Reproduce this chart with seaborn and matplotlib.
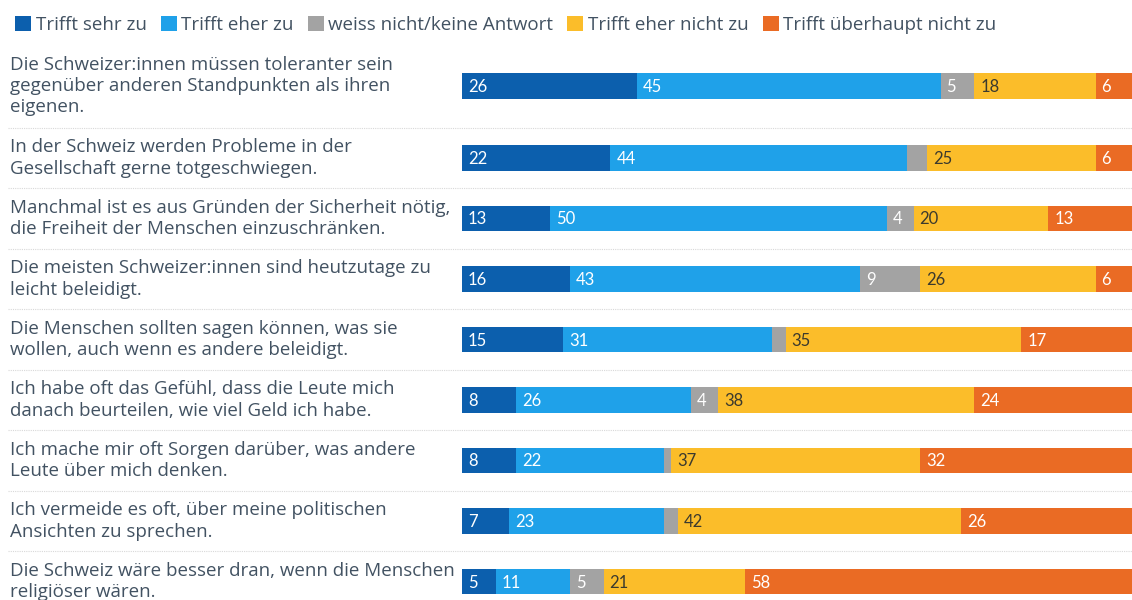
import matplotlib

matplotlib.use("Agg")
import matplotlib.pyplot as plt
import pandas as pd
import seaborn as sns
from matplotlib.patches import Patch
from matplotlib.transforms import blended_transform_factory

categories = [
    "Trifft sehr zu",
    "Trifft eher zu",
    "weiss nicht/keine Antwort",
    "Trifft eher nicht zu",
    "Trifft überhaupt nicht zu",
]
colors = ["#0c5fad", "#1fa1e9", "#a3a3a3", "#fbbd2a", "#ea6b24"]
label_colors = ["white", "white", "white", "#3b3a2e", "white"]

questions = [
    "Die Schweizer:innen müssen toleranter sein\ngegenüber anderen Standpunkten als ihren\neigenen.",
    "In der Schweiz werden Probleme in der\nGesellschaft gerne totgeschwiegen.",
    "Manchmal ist es aus Gründen der Sicherheit nötig,\ndie Freiheit der Menschen einzuschränken.",
    "Die meisten Schweizer:innen sind heutzutage zu\nleicht beleidigt.",
    "Die Menschen sollten sagen können, was sie\nwollen, auch wenn es andere beleidigt.",
    "Ich habe oft das Gefühl, dass die Leute mich\ndanach beurteilen, wie viel Geld ich habe.",
    "Ich mache mir oft Sorgen darüber, was andere\nLeute über mich denken.",
    "Ich vermeide es oft, über meine politischen\nAnsichten zu sprechen.",
    "Die Schweiz wäre besser dran, wenn die Menschen\nreligiöser wären.",
]

sehr_zu = [26, 22, 13, 16, 15, 8, 8, 7, 5]
eher_zu = [45, 44, 50, 43, 31, 26, 22, 23, 11]
weiss_nicht = [5, 3, 4, 9, 2, 4, 1, 2, 5]
eher_nicht = [18, 25, 20, 26, 35, 38, 37, 42, 21]
ueberhaupt_nicht = [6, 6, 13, 6, 17, 24, 32, 26, 58]

series = [sehr_zu, eher_zu, weiss_nicht, eher_nicht, ueberhaupt_nicht]

# layout in pixel units (rows grow with the number of text lines)
W, H = 1132, 600
top = 44.25
line_h = 23
centers = []
pos = top
for q in questions:
    h = 14.5 + line_h * (q.count("\n") + 1)
    centers.append(pos + h / 2)
    pos += h
row_bottoms = [c + (14.5 + line_h * (q.count("\n") + 1)) / 2 for c, q in zip(centers, questions)]

rows = []
for i, q in enumerate(questions):
    start = 0
    for cat, vals in zip(categories, series):
        rows.append({"question": q, "y": centers[i], "category": cat,
                     "value": vals[i], "start": start, "cum": start + vals[i]})
        start += vals[i]
df = pd.DataFrame(rows)

sns.set_theme(style="white")
plt.rcParams["font.family"] = ["Open Sans", "DejaVu Sans"]
text_color = "#425262"

fig = plt.figure(figsize=(W / 100, H / 100), dpi=100)
ax = fig.add_axes([0, 0, 1, 1])

sns.barplot(
    data=df, x="cum", y="y", hue="category", hue_order=categories[::-1],
    palette=dict(zip(categories, colors)), orient="h", native_scale=True,
    dodge=False, width=0.42, saturation=1, errorbar=None, linewidth=0,
    legend=False, ax=ax,
)

# the source chart is cropped a few pixels past 100 %
px = 1 / 6.74
ax.set_xlim(-462 * px, (W - 462) * px)
ax.set_ylim(H, 0)
ax.axis("off")

for _, r in df.iterrows():
    if r["value"] > 3:
        k = categories.index(r["category"])
        ax.text(r["start"] + 6 * px, r["y"] + 1, str(r["value"]), ha="left", va="center",
                fontsize=12, color=label_colors[k], family=["Lato", "DejaVu Sans"])

trans = blended_transform_factory(fig.transFigure, ax.transData)
for c, q in zip(centers, questions):
    ax.text(10 / W, c, q, transform=trans, ha="left", va="center", fontsize=13.5,
            color=text_color, linespacing=1.22)

for b in row_bottoms[:-1]:
    ax.axhline(b, xmin=8 / W, xmax=1, color="#d8d8d8", linewidth=0.8, linestyle=(0, (1, 1)))

handles = [Patch(facecolor=c, edgecolor="none") for c in colors]
fig.legend(handles, categories, loc="upper left", bbox_to_anchor=(0.0, 0.998), ncol=5,
           frameon=False, fontsize=13.5, handlelength=0.85, handleheight=0.85,
           handletextpad=0.25, columnspacing=0.75, labelcolor=text_color, borderaxespad=0.4)

fig.savefig("out.png", dpi=100)
